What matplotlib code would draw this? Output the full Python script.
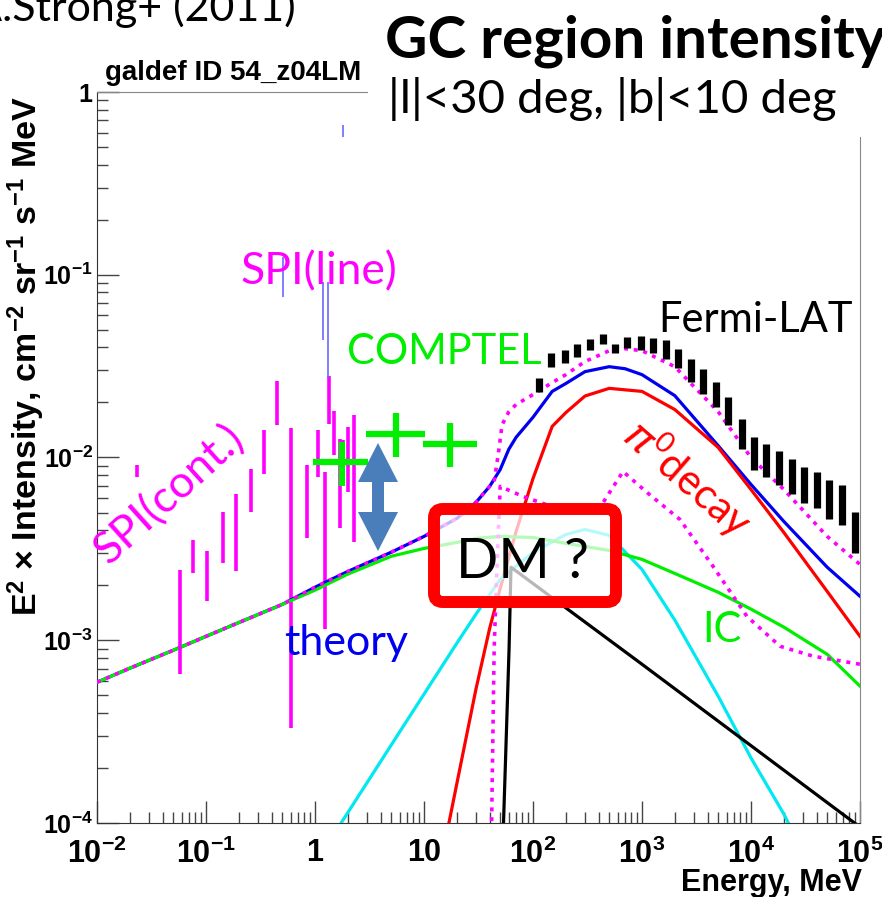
import numpy as np
import matplotlib
matplotlib.use('Agg')
import matplotlib.pyplot as plt
from matplotlib.patches import FancyBboxPatch, Polygon, Rectangle

plt.rcParams['font.family'] = ['Liberation Sans', 'DejaVu Sans']
plt.rcParams['mathtext.fontset'] = 'custom'
plt.rcParams['mathtext.rm'] = 'Liberation Sans'
plt.rcParams['mathtext.bf'] = 'Liberation Sans:bold'
plt.rcParams['mathtext.it'] = 'DejaVu Sans:italic'
plt.rcParams['mathtext.default'] = 'regular'

# ---- model curves (E in MeV, E^2 x intensity) ----
theory_E = [0.01, 0.02, 0.05, 0.1, 0.2, 0.5, 1, 2, 5, 10, 20, 30, 40, 50, 60, 70,
            100, 150, 200, 300, 500, 700, 1000, 2000, 5000, 1e4, 2e4, 5e4, 1e5]
theory_I = [5.89e-4, 7.03e-4, 8.81e-4, 1.05e-3, 1.25e-3, 1.57e-3, 1.95e-3, 2.38e-3, 3.03e-3,
            3.70e-3, 4.64e-3, 5.68e-3, 6.95e-3, 8.59e-3, 1.11e-2, 1.29e-2, 1.66e-2, 2.30e-2,
            2.54e-2, 2.95e-2, 3.14e-2, 3.06e-2, 2.84e-2, 2.18e-2, 1.16e-2, 7.12e-3, 4.47e-3,
            2.51e-3, 1.74e-3]

ic_E = [0.01, 0.02, 0.05, 0.1, 0.2, 0.5, 1, 2, 5, 10, 20, 30, 50, 100, 200, 500, 1000,
        2000, 5000, 1e4, 2e4, 5e4, 1e5]
ic_I = [5.89e-4, 7.03e-4, 8.81e-4, 1.05e-3, 1.25e-3, 1.57e-3, 1.88e-3, 2.30e-3, 2.88e-3,
        3.18e-3, 3.43e-3, 3.61e-3, 3.70e-3, 3.65e-3, 3.39e-3, 3.10e-3, 2.77e-3, 2.32e-3,
        1.83e-3, 1.48e-3, 1.18e-3, 8.38e-4, 5.61e-4]

pi0_E = [10, 20, 30, 40, 50, 70, 100, 150, 200, 300, 500, 1000, 2000, 5000, 1e4, 2e4, 5e4, 1e5]
pi0_I = [2.1e-5, 1.64e-4, 5.42e-4, 1.16e-3, 1.92e-3, 3.94e-3, 7.67e-3, 1.48e-2, 1.76e-2,
         2.17e-2, 2.39e-2, 2.30e-2, 1.83e-2, 1.135e-2, 6.68e-3, 3.89e-3, 1.85e-3, 1.05e-3]

brems_E = [1, 2, 5, 10, 20, 30, 50, 100, 200, 300, 500, 1000, 2000, 5000, 1e4, 2e4, 5e4]
brems_I = [6.0e-5, 1.14e-4, 2.67e-4, 5.07e-4, 9.63e-4, 1.39e-3, 2.15e-3, 3.03e-3, 3.79e-3,
           4.04e-3, 3.75e-3, 2.44e-3, 1.29e-3, 4.94e-4, 2.27e-4, 1.12e-4, 3.8e-5]

src_E = [52, 60.3, 62.8, 1000, 1e5]
src_I = [5.6e-5, 8.93e-4, 2.51e-3, 7.39e-4, 9.5e-5]

alt_E = [0.01, 0.02, 0.05, 0.1, 0.2, 0.5, 1, 2, 5, 10, 20, 30, 40, 44, 48, 52, 60, 70, 100,
         150, 200, 300, 500, 700, 1000, 2000, 5000, 1e4, 2e4, 5e4, 1e5]
alt_I = [5.89e-4, 7.03e-4, 8.81e-4, 1.05e-3, 1.25e-3, 1.57e-3, 1.95e-3, 2.38e-3, 3.03e-3,
         3.70e-3, 4.64e-3, 5.68e-3, 6.95e-3, 7.4e-3, 1.04e-2, 1.51e-2, 1.78e-2, 1.95e-2,
         2.21e-2, 2.57e-2, 2.84e-2, 3.35e-2, 3.84e-2, 3.94e-2, 3.84e-2, 3.14e-2, 1.78e-2,
         1.0e-2, 6.68e-3, 3.70e-3, 2.60e-3]

alt_pi0_E = [41, 44, 47, 50, 81, 177, 386, 477, 670, 1110, 2230, 4480, 9180, 18500, 37100, 1e5]
alt_pi0_I = [4.9e-5, 8.93e-4, 2.77e-3, 6.95e-3, 6.12e-3, 5.20e-3, 5.00e-3, 6.12e-3, 8.38e-3,
             6.44e-3, 4.58e-3, 2.54e-3, 1.35e-3, 9.27e-4, 8.18e-4, 7.39e-4]

# ---- data ----
fermi_E = [114, 145, 197, 255, 333, 442, 565, 733, 973, 1254, 1649, 2153, 2799, 3648, 4775,
           6194, 8222, 10660, 13740, 18200, 23610, 30620, 40090, 52240, 67920, 89950]
fermi_lo = [0.0227, 0.0311, 0.0327, 0.0355, 0.0386, 0.0416, 0.0375, 0.0396, 0.0386, 0.0375,
            0.0345, 0.0308, 0.0258, 0.0222, 0.0188, 0.0150, 0.0112, 0.00858, 0.00783, 0.00706,
            0.00635, 0.00565, 0.00526, 0.00459, 0.00428, 0.00299]
fermi_hi = [0.0274, 0.0375, 0.0386, 0.0416, 0.0443, 0.0476, 0.0420, 0.0457, 0.0462, 0.0453,
            0.0438, 0.0391, 0.0345, 0.0304, 0.0258, 0.0215, 0.0163, 0.0129, 0.0119, 0.0109,
            0.00984, 0.00887, 0.00834, 0.00751, 0.00706, 0.00505]

spi_E = [0.0234, 0.0577, 0.0764, 0.1028, 0.1422, 0.187, 0.259, 0.340, 0.446, 0.603, 0.840,
         1.066, 1.243, 1.353, 1.493, 1.694, 1.818, 1.995, 2.28]
spi_lo = [0.00783, 0.000653, 0.00233, 0.00164, 0.00264, 0.00238, 0.00505, 0.00816, 0.0150,
          0.000333, 0.00361, 0.00783, 0.00115, 0.01528, 0.01028, 0.0041, 0.00736, 0.00649, 0.00347]
spi_hi = [0.00906, 0.00243, 0.00354, 0.00306, 0.00505, 0.00635, 0.00869, 0.01416, 0.0263,
          0.01452, 0.00906, 0.01416, 0.00834, 0.0280, 0.0179, 0.01265, 0.01245, 0.01466, 0.0170]

line_E = [0.506, 1.178, 1.324, 1.796]
line_lo = [0.0758, 0.0441, 0.0274, 0.568]
line_hi = [0.1254, 0.0916, 0.0916, 0.660]

comptel_E = [1.77, 5.53, 17.3]
comptel_Elo = [0.96, 2.94, 9.8]
comptel_Ehi = [3.06, 10.2, 30.6]
comptel_I = [0.0095, 0.01353, 0.01178]
comptel_Ilo = [0.00695, 0.0101, 0.00882]
comptel_Ihi = [0.01223, 0.0176, 0.01553]

x_ticks = [1e-2, 1e-1, 1, 10, 1e2, 1e3, 1e4, 1e5]
x_labels = ['10$^{-2}$', '10$^{-1}$', '1', '10', '10$^{2}$', '10$^{3}$', '10$^{4}$', '10$^{5}$']
y_ticks = [1e-4, 1e-3, 1e-2, 1e-1, 1]
y_labels = ['10$^{-4}$', '10$^{-3}$', '10$^{-2}$', '10$^{-1}$', '1']

MAG = '#ff00ff'
GREEN = '#00ee00'

W, H = 882, 897
fig = plt.figure(figsize=(W / 100, H / 100), dpi=100)
ax = fig.add_axes([97 / W, 1 - 823 / H, (860 - 97) / W, (823 - 92) / H])


def fp(x, y):
    # figure pixel (from top-left) -> figure fraction
    return x / W, 1 - y / H


# SPI continuum and lines
ax.vlines(spi_E, spi_lo, spi_hi, color=MAG, lw=2.6, zorder=2)
ax.vlines(line_E, line_lo, line_hi, color='#6a6aff', lw=1.2, zorder=2)

# model components
ax.plot(theory_E, theory_I, color='#0000ee', lw=2.3, zorder=3)
ax.plot(pi0_E, pi0_I, color='#ff0000', lw=2.3, zorder=3)
ax.plot(brems_E, brems_I, color='#00e8f0', lw=2.3, zorder=3)
ax.plot(src_E, src_I, color='black', lw=2.3, zorder=3)
ax.plot(ic_E, ic_I, color=GREEN, lw=2.3, zorder=3)
ax.plot(alt_E, alt_I, color=MAG, lw=2.6, ls=(0, (1.1, 1.6)), zorder=4)
ax.plot(alt_pi0_E, alt_pi0_I, color=MAG, lw=2.6, ls=(0, (1.1, 1.6)), zorder=4)

# COMPTEL
ce = np.array(comptel_E)
ci = np.array(comptel_I)
ax.errorbar(ce, ci, xerr=[ce - np.array(comptel_Elo), np.array(comptel_Ehi) - ce],
            yerr=[ci - np.array(comptel_Ilo), np.array(comptel_Ihi) - ci],
            fmt='none', ecolor=GREEN, elinewidth=4.5, capsize=0, zorder=5)

# Fermi-LAT
ax.vlines(fermi_E, fermi_lo, fermi_hi, color='black', lw=5.2, zorder=6)

ax.set_xscale('log')
ax.set_yscale('log')
ax.set_xlim(1e-2, 1e5)
ax.set_ylim(1e-4, 1)
ax.set_xticks(x_ticks, x_labels, fontsize=22, fontweight='bold')
ax.set_yticks(y_ticks, y_labels, fontsize=18, fontweight='bold')
ax.xaxis.set_minor_locator(matplotlib.ticker.LogLocator(base=10, subs=np.arange(2, 10), numticks=30))
ax.yaxis.set_minor_locator(matplotlib.ticker.LogLocator(base=10, subs=np.arange(2, 10), numticks=30))
ax.xaxis.set_minor_formatter(matplotlib.ticker.NullFormatter())
ax.yaxis.set_minor_formatter(matplotlib.ticker.NullFormatter())
ax.tick_params(which='both', direction='in', top=False, right=False, color='#444444', width=1)
ax.tick_params(which='major', length=16)
ax.tick_params(which='minor', length=8)
ax.tick_params(axis='x', pad=11)
ax.tick_params(axis='y', pad=3)
for side in ['left', 'bottom']:
    ax.spines[side].set_color('#333333')
for side in ['top', 'right']:
    ax.spines[side].set_color('#888888')

fig.text(*fp(26, 356), 'E$^{2}$ × Intensity, cm$^{-2}$ sr$^{-1}$ s$^{-1}$ MeV', rotation=90,
         ha='center', va='center', fontsize=24.5, fontweight='bold')
fig.text(*fp(862, 891), 'Energy, MeV', ha='right', va='baseline', fontsize=22, fontweight='bold')
fig.text(*fp(105, 80), 'galdef ID 54_z04LM', ha='left', va='baseline', fontsize=20, fontweight='bold')

# overlay box of the slide
fig.add_artist(Rectangle(fp(368, 137), (W - 368) / W, 137 / H, transform=fig.transFigure,
                         facecolor='white', edgecolor='none', zorder=10))
slide = dict(family=['Lato', 'DejaVu Sans'], zorder=11)
fig.text(*fp(296, 21), 'A.Strong+ (2011)', ha='right', va='baseline', fontsize=31, **slide)
fig.text(*fp(385, 58), 'GC region intensity', ha='left', va='baseline', fontsize=42,
         fontweight='bold', **slide)
fig.text(*fp(388, 113), '|l|<30 deg, |b|<10 deg', ha='left', va='baseline', fontsize=34, **slide)

fig.text(*fp(319, 272), 'SPI(line)', ha='center', va='center', fontsize=32, color=MAG, **slide)
fig.text(*fp(444, 352), 'COMPTEL', ha='center', va='center', fontsize=30, color=GREEN, **slide)
fig.text(*fp(755, 320), 'Fermi-LAT', ha='center', va='center', fontsize=30, color='black', **slide)
fig.text(*fp(346, 643), 'theory', ha='center', va='center', fontsize=31, color='#0000ee', **slide)
fig.text(*fp(722, 630), 'IC', ha='center', va='center', fontsize=30, color=GREEN, **slide)
fig.text(*fp(170, 495), 'SPI(cont.)', ha='center', va='center', fontsize=32, color=MAG,
         rotation=42, rotation_mode='anchor', **slide)
fig.text(*fp(688, 478), r'$\mathit{\pi}^{0}$decay', ha='center', va='center', fontsize=30,
         color='#ff0000', rotation=-41, rotation_mode='anchor', **slide)

# DM box
x0, y0 = fp(434, 602)
fig.add_artist(FancyBboxPatch((x0, y0), (616 - 434) / W, (602 - 509) / H,
                              boxstyle='round,pad=0,rounding_size=0.01', transform=fig.transFigure,
                              facecolor=(1, 1, 1, 0.72), edgecolor='#ff0000', lw=8.6, zorder=11))
fig.text(*fp(523, 562), 'DM ?', ha='center', va='center', fontsize=40, color='black', **slide)

# double arrow
arrow_px = [(378, 443), (398, 482), (384, 482), (384, 512), (398, 512), (378, 551),
            (358, 512), (372, 512), (372, 482), (358, 482)]
fig.add_artist(Polygon([fp(x, y) for x, y in arrow_px], closed=True, transform=fig.transFigure,
                       facecolor='#4a7ebb', edgecolor='none', zorder=11))

fig.savefig('out.png', dpi=100)
